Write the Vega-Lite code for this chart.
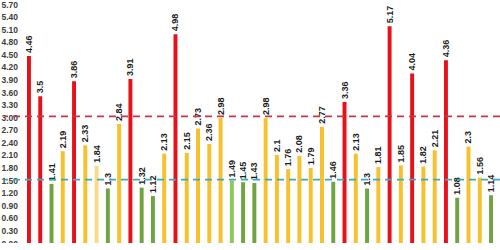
{
  "$schema": "https://vega.github.io/schema/vega-lite/v6.json",
  "width": 495,
  "height": 239,
  "autosize": {"type": "none"},
  "padding": {"left": 5, "top": 4, "right": 0, "bottom": 0},
  "background": "white",
  "config": {
    "view": {"stroke": null},
    "axisY": {
      "labelOverlap": false, "labelBound": false, "labelFlush": false, "labelSeparation": 0,
      "grid": false, "domain": false, "ticks": false, "title": null,
      "labelAlign": "left", "labelBaseline": "middle", "labelPadding": 4, "labelFontSize": 8.5, "labelFontWeight": "bold",
      "labelFont": "Liberation Sans", "labelColor": "#404040"
    },
    "axisX": {
      "labelAngle": -90, "labelFontSize": 8, "labelFont": "Liberation Sans",
      "labelColor": "#404040", "ticks": false, "labelPadding": 4, "title": null,
      "domain": true, "domainColor": "#d9d9d9", "labelOverlap": false
    }
  },
  "datasets": {
    "bars": [
      {"item": "1", "v": 4.46, "c": "r"},
      {"item": "2", "v": 3.5, "c": "r"},
      {"item": "3", "v": 1.41, "c": "g"},
      {"item": "4", "v": 2.19, "c": "y"},
      {"item": "5", "v": 3.86, "c": "r"},
      {"item": "6", "v": 2.33, "c": "y"},
      {"item": "7", "v": 1.84, "c": "ly"},
      {"item": "8", "v": 1.3, "c": "g"},
      {"item": "9", "v": 2.84, "c": "y"},
      {"item": "10", "v": 3.91, "c": "r"},
      {"item": "11", "v": 1.32, "c": "g"},
      {"item": "12", "v": 1.12, "c": "g"},
      {"item": "13", "v": 2.13, "c": "y"},
      {"item": "14", "v": 4.98, "c": "r"},
      {"item": "15", "v": 2.15, "c": "y"},
      {"item": "16", "v": 2.73, "c": "y"},
      {"item": "17", "v": 2.36, "c": "y"},
      {"item": "18", "v": 2.98, "c": "y"},
      {"item": "19", "v": 1.49, "c": "lg"},
      {"item": "20", "v": 1.45, "c": "g"},
      {"item": "21", "v": 1.43, "c": "g"},
      {"item": "22", "v": 2.98, "c": "y"},
      {"item": "23", "v": 2.1, "c": "y"},
      {"item": "24", "v": 1.76, "c": "y"},
      {"item": "25", "v": 2.08, "c": "y"},
      {"item": "26", "v": 1.79, "c": "y"},
      {"item": "27", "v": 2.77, "c": "y"},
      {"item": "28", "v": 1.46, "c": "g"},
      {"item": "29", "v": 3.36, "c": "r"},
      {"item": "30", "v": 2.13, "c": "y"},
      {"item": "31", "v": 1.3, "c": "g"},
      {"item": "32", "v": 1.81, "c": "y"},
      {"item": "33", "v": 5.17, "c": "r"},
      {"item": "34", "v": 1.85, "c": "y"},
      {"item": "35", "v": 4.04, "c": "r"},
      {"item": "36", "v": 1.82, "c": "y"},
      {"item": "37", "v": 2.21, "c": "y"},
      {"item": "38", "v": 4.36, "c": "r"},
      {"item": "39", "v": 1.08, "c": "g"},
      {"item": "40", "v": 2.3, "c": "y"},
      {"item": "41", "v": 1.56, "c": "y"},
      {"item": "42", "v": 1.14, "c": "g"}
    ],
    "refs": [
      {"ref": "upper", "y": 3.02},
      {"ref": "lower", "y": 1.51}
    ]
  },
  "layer": [
    {
      "data": {"name": "bars"},
      "mark": {"type": "bar"},
      "encoding": {
        "x": {
          "field": "item", "type": "ordinal", "sort": null,
          "scale": {"paddingInner": 0.65, "paddingOuter": 0, "range": [22, 488]}
        },
        "y": {
          "field": "v", "type": "quantitative",
          "scale": {"domain": [0, 5.7], "nice": false},
          "axis": {
            "values": [0, 0.3, 0.6, 0.9, 1.2, 1.5, 1.8, 2.1, 2.4, 2.7, 3.0, 3.3, 3.6, 3.9, 4.2, 4.5, 4.8, 5.1, 5.4, 5.7],
            "format": ".2f", "labelOverlap": false, "tickCount": 20
          }
        },
        "color": {
          "field": "c", "type": "nominal", "legend": null,
          "scale": {"domain": ["r", "y", "g", "ly", "lg"], "range": ["#E8111A", "#F6C12C", "#70A443", "#FADA85", "#8FC85A"]}
        }
      }
    },
    {
      "data": {"name": "bars"},
      "mark": {"type": "text", "angle": 270, "align": "left", "baseline": "middle", "dx": 3, "fontSize": 9, "fontWeight": "bold", "font": "Liberation Sans", "color": "#1a1a1a"},
      "encoding": {
        "x": {"field": "item", "type": "ordinal", "sort": null},
        "y": {
          "field": "v", "type": "quantitative",
          "axis": {
            "values": [0, 0.3, 0.6, 0.9, 1.2, 1.5, 1.8, 2.1, 2.4, 2.7, 3.0, 3.3, 3.6, 3.9, 4.2, 4.5, 4.8, 5.1, 5.4, 5.7],
            "format": ".2f", "labelOverlap": false, "tickCount": 20
          }
        },
        "text": {"field": "v", "type": "quantitative"}
      }
    },
    {
      "data": {"name": "refs"},
      "mark": {"type": "rule", "strokeDash": [7, 5], "strokeWidth": 1.8},
      "encoding": {
        "y": {
          "field": "y", "type": "quantitative",
          "axis": {
            "values": [0, 0.3, 0.6, 0.9, 1.2, 1.5, 1.8, 2.1, 2.4, 2.7, 3.0, 3.3, 3.6, 3.9, 4.2, 4.5, 4.8, 5.1, 5.4, 5.7],
            "format": ".2f", "labelOverlap": false, "tickCount": 20
          }
        },
        "color": {
          "field": "ref", "type": "nominal", "legend": null,
          "scale": {"domain": ["upper", "lower"], "range": ["#C0394A", "#3FA9C0"]}
        }
      }
    }
  ],
  "resolve": {"scale": {"color": "independent"}}
}
